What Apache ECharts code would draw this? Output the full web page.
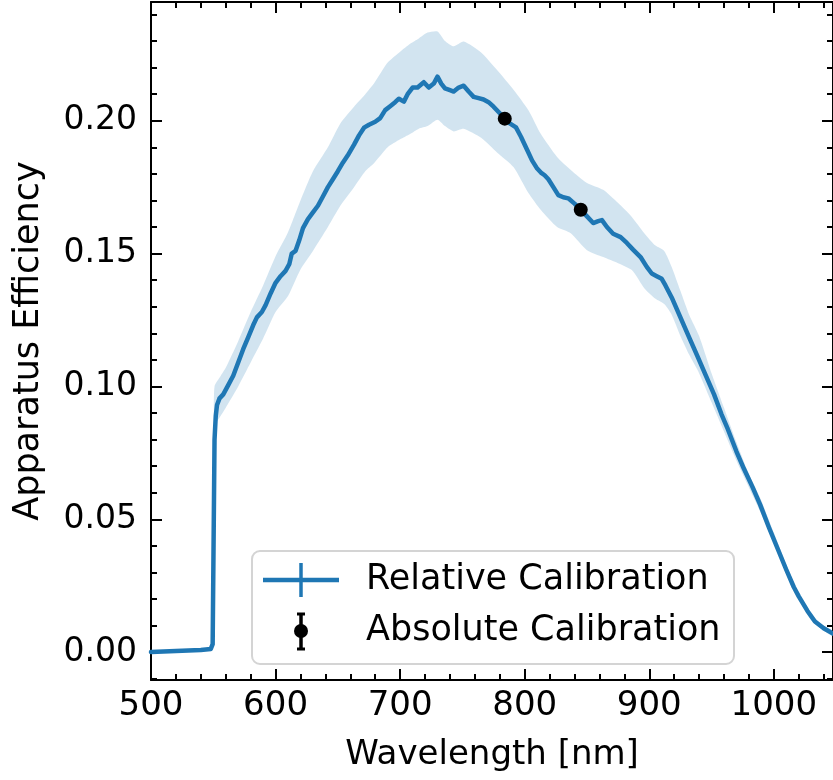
<!DOCTYPE html>
<html>
<head>
<meta charset="utf-8">
<script src="https://cdn.jsdelivr.net/npm/echarts@6/dist/echarts.min.js"></script>
<style>
html,body{margin:0;padding:0;background:#fff;}
#chart{width:833px;height:780px;}
</style>
</head>
<body>
<div id="chart"></div>
<script>
// Relative calibration curve
const wavelength = [500,510,520,530,540,548,549.5,551,552,553,555,558,562,566,570,574,578,582,585,589,592,596,600,604,608,611,613,616,619,622,626,630,634,638,642,646,650,654,658,663,667,671,675,680,684,688,692,696,699,703,706,710,714,719,723,727,730,733,736,740,743,747,751,755,759,763,767,771,775,780,784,788,793,797,802,806,810,813,816,819,823,827,831,835,840,845,850,855,859,862,866,871,877,882,887,893,898,902,906,910,913,918,925,932,939,945,952,958,963,970,976,983,989,996,1003,1010,1016,1020,1027,1033,1040,1047.5];
const efficiency = [0.0000,0.0002,0.0004,0.0006,0.0008,0.0012,0.003,0.080,0.089,0.093,0.0955,0.097,0.1005,0.104,0.109,0.114,0.1185,0.123,0.126,0.128,0.1306,0.135,0.139,0.1415,0.1435,0.146,0.150,0.151,0.155,0.1596,0.163,0.1655,0.168,0.1715,0.175,0.178,0.181,0.1842,0.187,0.191,0.1945,0.1974,0.1985,0.1996,0.201,0.204,0.2055,0.207,0.2083,0.2072,0.210,0.2125,0.2125,0.2145,0.2125,0.214,0.2166,0.214,0.2122,0.2115,0.211,0.2125,0.2132,0.211,0.209,0.2085,0.2080,0.207,0.2053,0.2028,0.2008,0.1990,0.1975,0.194,0.189,0.185,0.182,0.1805,0.1795,0.178,0.175,0.172,0.1712,0.1708,0.1688,0.1665,0.164,0.1615,0.1622,0.1626,0.160,0.1575,0.1562,0.154,0.1515,0.1487,0.145,0.1425,0.1415,0.1405,0.138,0.1335,0.126,0.1185,0.111,0.1045,0.097,0.0895,0.084,0.0755,0.069,0.062,0.0555,0.047,0.039,0.031,0.0245,0.021,0.0155,0.0115,0.009,0.007];

// Uncertainty band
const bandWavelength = [551,556,560,570,580,590,600,610,620,630,642,652,663,672,679,690,700,708,715,722,730,736,743,751,765,778,791,803,813,826,837,850,863,875,886,896,905,912,918,925,932,940,950,960,970,980,990,1000,1010,1020,1030,1040,1047.5];
const bandUpper = [0.100,0.104,0.107,0.117,0.128,0.138,0.149,0.158,0.170,0.181,0.190,0.199,0.2053,0.210,0.214,0.2219,0.226,0.229,0.231,0.2332,0.2336,0.230,0.228,0.2298,0.2257,0.219,0.2117,0.204,0.195,0.1864,0.1815,0.1766,0.174,0.169,0.1638,0.1577,0.153,0.151,0.145,0.136,0.127,0.119,0.105,0.092,0.079,0.067,0.057,0.045,0.033,0.022,0.014,0.010,0.008];
const bandLower = [0.086,0.089,0.092,0.100,0.109,0.118,0.128,0.134,0.144,0.151,0.160,0.168,0.175,0.181,0.184,0.190,0.193,0.195,0.197,0.198,0.2004,0.198,0.196,0.197,0.1936,0.188,0.1826,0.1728,0.1664,0.160,0.1577,0.1513,0.1487,0.1464,0.1438,0.137,0.133,0.131,0.127,0.119,0.112,0.105,0.094,0.083,0.072,0.062,0.052,0.041,0.030,0.020,0.012,0.008,0.006];

// Absolute calibration points
const absWavelength = [784, 845];
const absEfficiency = [0.2008, 0.1665];

// Ticks
const xMajorTicks = [500,600,700,800,900,1000];
const xMinorTicks = [520,540,560,580,620,640,660,680,720,740,760,780,820,840,860,880,920,940,960,980,1020,1040];
const yMajorTicks = [0.00,0.05,0.10,0.15,0.20];
const yMinorTicks = [-0.01,0.01,0.02,0.03,0.04,0.06,0.07,0.08,0.09,0.11,0.12,0.13,0.14,0.16,0.17,0.18,0.19,0.21,0.22,0.23,0.24];

const FONT = 'DejaVu Sans';
const X_MIN = 500, X_MAX = 1047.5, Y_MIN = -0.0105, Y_MAX = 0.2447;

const chart = echarts.init(document.getElementById('chart'), null, {renderer:'canvas'});

function xAx(pos, ticks, len, withLine, withLabel){
  return {
    type:'value', position:pos, min:X_MIN, max:X_MAX,
    axisLine:{show:withLine, onZero:false, lineStyle:{color:'#000', width:2}},
    axisTick:{show:true, inside:true, length:len, customValues:ticks, lineStyle:{color:'#000', width:2}},
    axisLabel:{show:withLabel, customValues:xMajorTicks, color:'#000', fontFamily:FONT, fontSize:34, margin:9,
      formatter:v=>String(Math.round(v))},
    splitLine:{show:false}
  };
}
function yAx(pos, ticks, len, withLine, withLabel){
  return {
    type:'value', position:pos, min:Y_MIN, max:Y_MAX,
    axisLine:{show:withLine, onZero:false, lineStyle:{color:'#000', width:2}},
    axisTick:{show:true, inside:true, length:len, customValues:ticks, lineStyle:{color:'#000', width:2}},
    axisLabel:{show:withLabel, customValues:yMajorTicks, color:'#000', fontFamily:FONT, fontSize:33, margin:14,
      formatter:v=>v.toFixed(2)},
    splitLine:{show:false}
  };
}

const xAxes = [
  Object.assign(xAx('bottom', xMajorTicks, 11, true, true), {name:'Wavelength [nm]', nameLocation:'middle', nameGap:58,
    nameTextStyle:{color:'#000', fontFamily:FONT, fontSize:34}}),
  xAx('bottom', xMinorTicks, 6, false, false),
  xAx('top', xMajorTicks, 11, true, false),
  xAx('top', xMinorTicks, 6, false, false)
];
const yAxes = [
  Object.assign(yAx('left', yMajorTicks, 11, true, true), {name:'Apparatus Efficiency', nameLocation:'middle', nameGap:105,
    nameTextStyle:{color:'#000', fontFamily:FONT, fontSize:35}}),
  yAx('left', yMinorTicks, 6, false, false),
  yAx('right', yMajorTicks, 11, true, false),
  yAx('right', yMinorTicks, 6, false, false)
];

const BLUE = '#1f77b4';

const option = {
  animation:false,
  backgroundColor:'#fff',
  grid:{left:151, right:0, top:2, bottom:100, containLabel:false},
  xAxis:xAxes,
  yAxis:yAxes,
  series:[
    {
      type:'custom', name:'band', xAxisIndex:0, yAxisIndex:0, z:1, silent:true,
      data:[[bandWavelength[0], bandLower[0]]],
      renderItem:function(params, api){
        const pts = [];
        for(let i=0;i<bandWavelength.length;i++) pts.push(api.coord([bandWavelength[i], bandUpper[i]]));
        for(let i=bandWavelength.length-1;i>=0;i--) pts.push(api.coord([bandWavelength[i], bandLower[i]]));
        return {type:'polygon', shape:{points:pts, smooth:0.2}, style:{fill:'rgba(31,119,180,0.2)', stroke:null}};
      }
    },
    {
      type:'line', name:'Relative Calibration', xAxisIndex:0, yAxisIndex:0, z:2,
      data:wavelength.map((w,i)=>[w, efficiency[i]]),
      showSymbol:false, symbol:'none', smooth:false,
      lineStyle:{color:BLUE, width:4.5, join:'round', cap:'round'},
      clip:true
    },
    {
      type:'scatter', name:'Absolute Calibration', xAxisIndex:0, yAxisIndex:0, z:3,
      data:absWavelength.map((w,i)=>[w, absEfficiency[i]]),
      symbol:'circle', symbolSize:14, itemStyle:{color:'#000', opacity:1}
    }
  ],
  graphic:[
    {type:'rect', z:100, shape:{x:252, y:551, width:482, height:113, r:8},
      style:{fill:'rgba(255,255,255,0.8)', stroke:'#d4d4d4', lineWidth:2}},
    {type:'line', z:101, shape:{x1:263, y1:580, x2:339, y2:580}, style:{stroke:BLUE, lineWidth:4.5}},
    {type:'line', z:101, shape:{x1:301, y1:563, x2:301, y2:597}, style:{stroke:BLUE, lineWidth:3.5}},
    {type:'text', z:101, x:366, y:580, style:{text:'Relative Calibration', fill:'#000', font:'35px "DejaVu Sans"', verticalAlign:'middle', align:'left'}},
    {type:'line', z:101, shape:{x1:301, y1:614, x2:301, y2:649}, style:{stroke:'#000', lineWidth:3.5}},
    {type:'line', z:101, shape:{x1:297, y1:614, x2:305, y2:614}, style:{stroke:'#000', lineWidth:3}},
    {type:'line', z:101, shape:{x1:297, y1:649, x2:305, y2:649}, style:{stroke:'#000', lineWidth:3}},
    {type:'circle', z:102, shape:{cx:301, cy:631, r:7}, style:{fill:'#000'}},
    {type:'text', z:101, x:366, y:631, style:{text:'Absolute Calibration', fill:'#000', font:'35px "DejaVu Sans"', verticalAlign:'middle', align:'left'}}
  ]
};
chart.setOption(option);
</script>
</body>
</html>
